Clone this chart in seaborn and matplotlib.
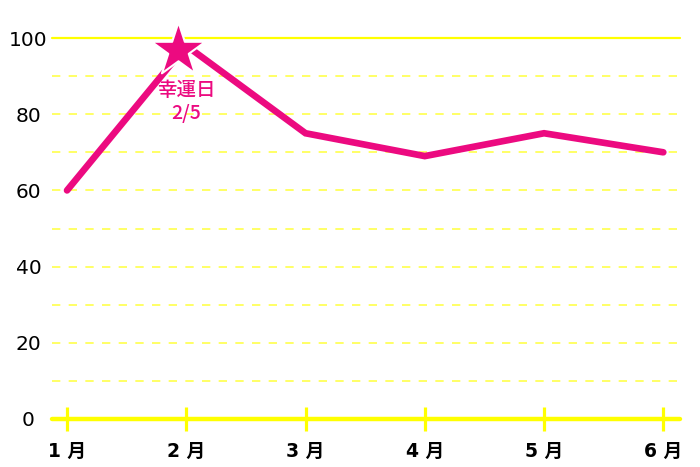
"""Monthly line chart with a highlighted lucky day."""

import matplotlib
import pandas as pd
import seaborn as sns
from matplotlib import transforms

matplotlib.use("Agg")
import matplotlib.pyplot as plt

months = ["1 月", "2 月", "3 月", "4 月", "5 月", "6 月"]
values = [60, 98, 75, 69, 75, 70]
y_ticks = [0, 20, 40, 60, 80, 100]
lucky_month = "2 月"
lucky_label = "幸運日\n2/5"

PINK = "#ec0a80"
YELLOW = "#ffff00"

sns.set_theme(style="white")
plt.rcParams["font.family"] = ["DejaVu Sans", "Noto Sans CJK JP"]

df = pd.DataFrame({"month": months, "value": values})
df["pos"] = range(len(months))

fig = plt.figure(figsize=(7, 4.67), dpi=100)
W, H = 700, 467
ax = fig.add_axes([52 / W, (H - 419) / H, (680 - 52) / W, (419 - 38) / H])

# grid
for v in range(10, 100, 10):
    ax.axhline(v, color=YELLOW, lw=1.2, ls=(0, (5, 5)), alpha=0.7, zorder=1)
ax.axhline(100, color=YELLOW, lw=1.6, zorder=1)
ax.axhline(0, color=YELLOW, lw=3.2, zorder=2, clip_on=False)

sns.lineplot(data=df, x="pos", y="value", color=PINK, lw=4.8, ax=ax,
             solid_capstyle="round", solid_joinstyle="miter", zorder=3)
for ln in ax.lines:
    ln.set_clip_on(False)

lucky = df[df["month"] == lucky_month].iloc[0]
star_tr = transforms.offset_copy(ax.transData, fig=fig, x=-8, y=-4, units="dots")
ax.scatter([lucky["pos"]], [lucky["value"]], marker="*", s=1650, color=PINK,
           edgecolor="white", linewidth=1.5, transform=star_tr, zorder=4, clip_on=False)
ax.annotate(lucky_label, (lucky["pos"], lucky["value"]), xytext=(0, -35),
            textcoords="offset pixels", ha="center", va="top", color=PINK,
            fontsize=14, family=["Noto Sans CJK JP", "DejaVu Sans"],
            fontweight="medium", linespacing=1.3)

ax.set_xlim(-0.126, 5.14)
ax.set_ylim(0, 100)
ax.set_xticks(df["pos"], months, fontsize=13.5, fontweight="bold")
ax.set_yticks(y_ticks, [str(t) for t in y_ticks], fontsize=14.5)
for lab in ax.get_yticklabels():
    lab.set_horizontalalignment("center")
ax.tick_params(axis="x", bottom=True, direction="inout", length=17, width=2.3,
               color=YELLOW, pad=8, labelcolor="black")
ax.tick_params(axis="y", left=False, length=0, pad=17, labelcolor="black")
for s in ax.spines.values():
    s.set_visible(False)
ax.set_xlabel("")
ax.set_ylabel("")
ax.grid(False)

fig.savefig("out.png", dpi=100)
